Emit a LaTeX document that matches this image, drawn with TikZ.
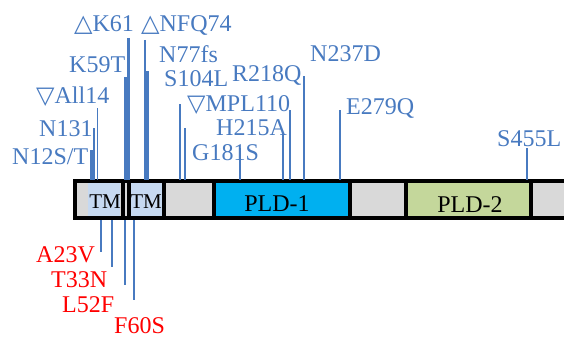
\documentclass[tikz,border=0pt]{standalone}
\usepackage{fontspec}
\setmainfont{Liberation Serif}
\newfontfamily\symfont{DejaVu Sans}
\definecolor{mblue}{RGB}{72,122,192}
\definecolor{mred}{RGB}{255,0,0}
\definecolor{seggray}{RGB}{217,217,217}
\definecolor{tmfill}{RGB}{198,217,241}
\definecolor{pldone}{RGB}{0,176,240}
\definecolor{pldtwo}{RGB}{196,215,155}
\tikzset{
  lab/.style={text=mblue, font=\fontsize{24}{24}\selectfont, inner sep=0pt, anchor=base west},
  rlab/.style={lab, text=mred},
  dom/.style={font=\fontsize{24}{24}\selectfont, inner sep=0pt, anchor=base, text=black},
  mut/.style={draw=mblue, line width=2pt},
  divider/.style={line width=4pt, black}
}
\begin{document}
\begin{tikzpicture}[x=1pt,y=-1pt]
\useasboundingbox (0,0) rectangle (564,337);
% segments
\fill[seggray] (75,181) rectangle (88,218);
\fill[tmfill] (88,181) rectangle (120,218);
\fill[seggray] (120,181) rectangle (130,218);
\fill[tmfill] (130,181) rectangle (162,218);
\fill[seggray] (162,181) rectangle (214,218);
\fill[pldone] (214,181) rectangle (350,218);
\fill[seggray] (350,181) rectangle (406,218);
\fill[pldtwo] (406,181) rectangle (531,218);
\fill[seggray] (531,181) rectangle (570,218);
% dividers
\draw[divider] (122.5,181) -- (122.5,218);
\draw[divider] (128.5,181) -- (128.5,218);
\draw[divider] (163.5,181) -- (163.5,218);
\draw[divider] (213.5,181) -- (213.5,218);
\draw[divider] (350,181) -- (350,218);
\draw[divider] (406,181) -- (406,218);
\draw[divider] (531,181) -- (531,218);
% outer border
\draw[line width=3.5pt] (75,181) rectangle (575,218);
% domain labels
\node[dom, font=\fontsize{21}{21}\selectfont] (tm1) at (105,208) {TM};
\node[dom, font=\fontsize{21}{21}\selectfont] (tm2) at (146,208) {TM};
\node[dom] (pld1) at (277,211) {PLD-1};
\node[dom] (pld2) at (470,212) {PLD-2};
% upper mutation lines
\foreach \x/\t/\w in {91.5/150/2.6, 94/128/1.6, 97.5/108/1.6, 125/77/3, 128.5/38/2.4,
  145/40/2.4, 147.5/71/3, 180/104/1.6, 185/128/1.6, 240/148/1.6, 283/135/1.6,
  290/110/1.6, 304/76/1.6, 340/110/1.6, 527/148/1.6}
  \draw[mut, line width=\w pt] (\x,\t) -- (\x,180);
% lower mutation lines
\foreach \x/\b in {100.7/252, 112/267, 125/285, 134/300}
  \draw[mut, line width=1.8pt] (\x,220) -- (\x,\b);
% upper labels
\node[lab] (k61) at (74,32) {{\symfont △}K61};
\node[lab] (nfq) at (141,32) {{\symfont △}NFQ74};
\node[lab] (k59) at (69,72) {K59T};
\node[lab] (n77) at (159,63) {N77fs};
\node[lab] (s104) at (164,86) {S104L};
\node[lab] (r218) at (232,81) {R218Q};
\node[lab] (n237) at (310,61) {N237D};
\node[lab] (mpl) at (187,111) {{\symfont ▽}MPL110};
\node[lab] (h215) at (216,135) {H215A};
\node[lab] (g181) at (192,160) {G181S};
\node[lab] (e279) at (346,114) {E279Q};
\node[lab] (s455) at (497,146) {S455L};
\node[lab] (all14) at (36,103) {{\symfont ▽}All14};
\node[lab] (n131) at (39,136) {N131};
\node[lab] (n12) at (12,164) {N12S/T};
% lower labels
\node[rlab] (a23) at (36,262) {A23V};
\node[rlab] (t33) at (51,287) {T33N};
\node[rlab] (l52) at (62,312) {L52F};
\node[rlab] (f60) at (114,333) {F60S};
\end{tikzpicture}
\end{document}
